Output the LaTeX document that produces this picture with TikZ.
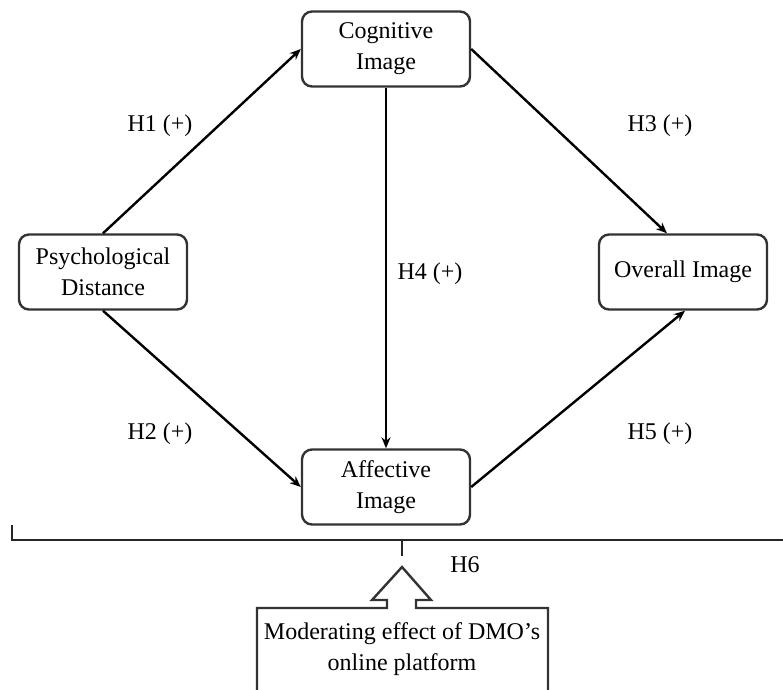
\documentclass[tikz,border=0pt]{standalone}
\usepackage{fontspec}
\setmainfont{Liberation Serif}
\usetikzlibrary{arrows.meta}
\begin{document}
\begin{tikzpicture}[x=1pt,y=-1pt,
  every node/.style={font=\fontsize{24}{31}\selectfont},
  box/.style={draw=black!80, line width=2.4pt, rounded corners=10pt, minimum width=168pt, minimum height=75pt, align=center, inner sep=0pt},
  conn/.style={line width=2.4pt, -{Stealth[length=11pt,width=9pt]}},
  lab/.style={inner sep=0pt}]
\useasboundingbox (0,0) rectangle (783,689);
\node[box] (cog) at (386,49) {Cognitive\\Image};
\node[box] (psy) at (103,272) {Psychological\\Distance};
\node[box] (ovr) at (683,272) {Overall Image};
\node[box] (aff) at (386,487) {Affective\\Image};
\draw[conn] (psy.north) -- (cog.west);
\draw[conn] (cog.east) -- ([xshift=-16pt]ovr.north);
\draw[conn] (cog.south) -- (aff.north);
\draw[conn] (psy.south) -- (aff.west);
\draw[conn] (aff.east) -- ([xshift=2pt]ovr.south);
\node[lab] (h1) at (160,126) {H1 (+)};
\node[lab] (h3) at (660,126) {H3 (+)};
\node[lab] (h4) at (430,274) {H4 (+)};
\node[lab] (h2) at (160,434) {H2 (+)};
\node[lab] (h5) at (660,434) {H5 (+)};
\node[lab] (h6) at (465,565) {H6};
\coordinate (bl) at (12,525);
\coordinate (br) at (783,540);
\coordinate (tick) at (402,540);
\draw[line width=2.4pt, black!85] (bl) -- (12,540) -- (br);
\draw[line width=2.4pt, black!85] (tick) -- (402,556);
\draw[line width=2.4pt, black!80, line join=miter]
  (257,692) -- (257,608) -- (387,608) -- (387,600) -- (372,600) -- (402,567)
  -- (431,600) -- (416,600) -- (416,608) -- (548,608) -- (548,692);
\node[align=center, inner sep=0pt] (mod) at (402,649) {Moderating effect of DMO’s\\online platform};
\end{tikzpicture}
\end{document}
